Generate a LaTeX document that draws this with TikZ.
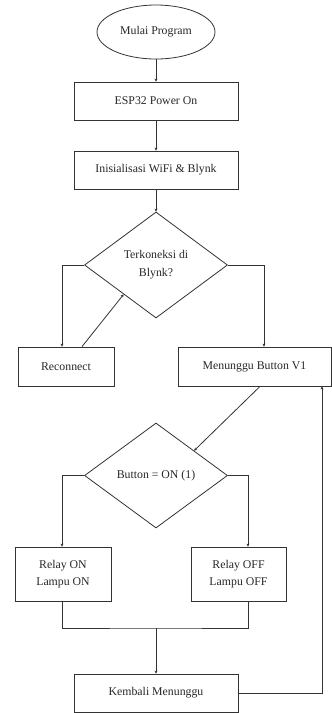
\documentclass[tikz,border=0pt]{standalone}
\usepackage{fontspec}
\setmainfont{Liberation Serif}
\usetikzlibrary{shapes.geometric,arrows.meta,calc}
\begin{document}
\begin{tikzpicture}[x=1pt,y=-1pt,
  every node/.style={font=\fontsize{11.8}{17.5}\selectfont, text=black!85},
  box/.style={draw=black!80, line width=0.8pt, rectangle, inner sep=0pt, align=center},
  dec/.style={draw=black!80, line width=0.8pt, diamond, inner sep=0pt, align=center, minimum width=143pt, minimum height=106pt},
  conn/.style={draw=black!80, line width=0.8pt},
  arr/.style={conn, -{Stealth[length=3pt,width=3pt]}}
]
\useasboundingbox (0,0) rectangle (332,713);
\node[draw=black!80, line width=0.8pt, ellipse, minimum width=118pt, minimum height=54pt, inner sep=0pt] (start) at (156,32) {Mulai Program};
\node[box, minimum width=164pt, minimum height=38pt] (esp) at (156,101) {ESP32 Power On};
\node[box, minimum width=164pt, minimum height=38pt] (init) at (156,170) {Inisialisasi WiFi \& Blynk};
\node[dec] (d1) at (156,265) {};
\node (d1t) at (156,264.5) [align=center] {Terkoneksi di\\Blynk?};
\node[box, minimum width=96pt, minimum height=39pt] (recon) at (66,366.5) {Reconnect};
\node[box, minimum width=153pt, minimum height=39pt] (menu) at (254.5,366.5) {Menunggu Button V1};
\node[dec, minimum height=105pt] (d2) at (156,475.5) {Button = ON (1)};
\node[box, minimum width=96pt, minimum height=54pt] (ron) at (63,574) {Relay ON\\Lampu ON};
\node[box, minimum width=95pt, minimum height=54pt] (roff) at (238.5,574) {Relay OFF\\Lampu OFF};
\node[box, minimum width=164pt, minimum height=38pt] (kem) at (156,693) {Kembali Menunggu};
\coordinate (m) at (156,628);

\draw[arr] (start) -- (esp);
\draw[arr] (esp) -- (init);
\draw[arr] (init) -- (d1);
\draw[arr] (d1.west) -| ([xshift=-4pt]recon.north);
\draw[arr] ([xshift=16pt]recon.north) -- ($(d1.west)!0.55!(d1.south)$);
\draw[arr] (d1.east) -| ([xshift=9.5pt]menu.north);
\draw[arr] ([xshift=5.5pt]menu.south) -- ($(d2.north)!0.53!(d2.east)$);
\draw[arr] (d2.west) -| ([xshift=-1pt]ron.north);
\draw[arr] (d2.east) -| ([xshift=9.5pt]roff.north);
\draw[conn] ([xshift=-1pt]ron.south) |- (m) -| ([xshift=9.5pt]roff.south);
\draw[arr] (m) -- (kem);
\draw[arr] (kem.east) -| ([xshift=67.5pt]menu.south);
\end{tikzpicture}
\end{document}
